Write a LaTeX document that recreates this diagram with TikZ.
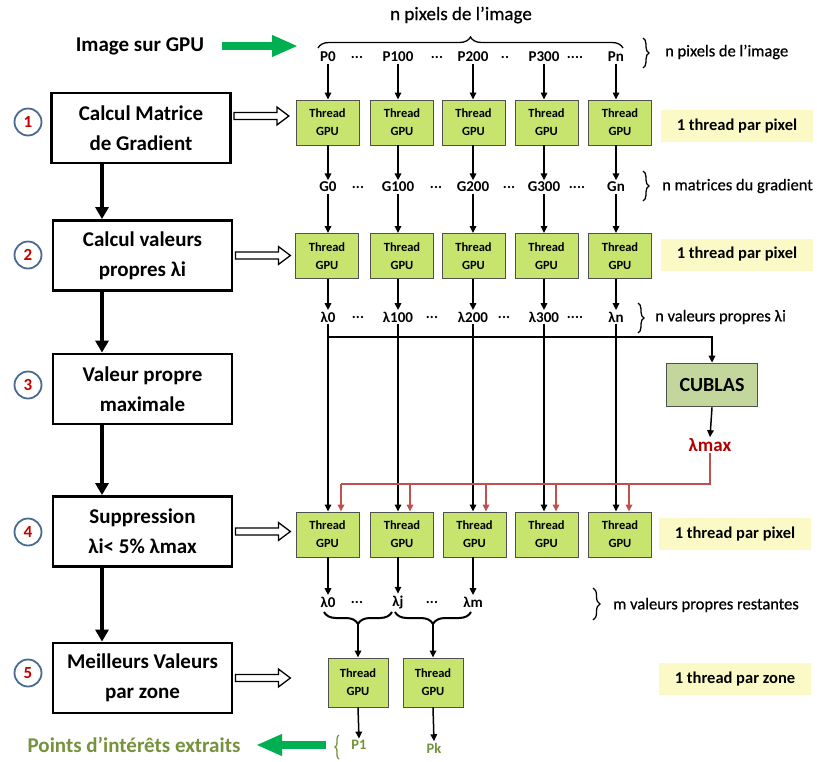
\documentclass[tikz,border=0pt]{standalone}
\usepackage{fontspec}
\setmainfont{Carlito}
\usetikzlibrary{arrows.meta,decorations.pathreplacing,calc}
\definecolor{thr}{HTML}{C6E46E}
\definecolor{thrb}{HTML}{505050}
\definecolor{yel}{HTML}{FBFAC6}
\definecolor{cubc}{HTML}{C3D69B}
\definecolor{grn}{HTML}{00B050}
\definecolor{olive}{HTML}{76923C}
\definecolor{dred}{HTML}{B00000}
\definecolor{lred}{HTML}{C0504D}
\definecolor{circb}{HTML}{4A6A94}
\definecolor{circn}{HTML}{C00000}
\newcommand\hollowarr[1]{\draw[line width=1.3pt, fill=white] #1 ++(2,-3.5) -- ++(43,0) -- ++(0,-5.5) -- ++(12,9) -- ++(-12,9) -- ++(0,-5.5) -- ++(-43,0) -- cycle;}
\begin{document}
\begin{tikzpicture}[x=1pt,y=-1pt,
  stepbox/.style={draw, line width=2.8pt, minimum width=179pt, minimum height=70pt, align=center, font=\fontsize{21}{30}\selectfont\bfseries, inner sep=0pt},
  thread/.style={draw=thrb, fill=thr, line width=0.9pt, minimum width=63pt, minimum height=45pt, align=center, font=\fontsize{12.5}{18}\selectfont\bfseries, inner sep=0pt},
  thread2/.style={thread, minimum width=60pt, minimum height=49pt},
  lab/.style={font=\fontsize{15}{15}\selectfont\bfseries, inner sep=1.5pt},
  rlab/.style={anchor=west, font=\fontsize{16.5}{16.5}\selectfont\addfontfeature{FakeBold=0.6}, inner sep=0pt},
  ylw/.style={fill=yel, minimum width=152pt, minimum height=32pt, font=\fontsize{16.5}{16.5}\selectfont\bfseries, inner sep=0pt},
  circ/.style={circle, draw=circb, line width=1.8pt, fill=white, minimum size=27pt, inner sep=0pt, font=\fontsize{17}{17}\selectfont\bfseries, text=circn},
  arr/.style={line width=1.5pt, -{Triangle[length=7pt,width=6.5pt]}},
  tarr/.style={line width=3.5pt, -{Triangle[length=12pt,width=13pt]}},
  garr/.style={draw=grn, line width=8pt, -{Triangle[length=26pt,width=20pt]}},
  rarr/.style={draw=lred, line width=1.6pt, -{Triangle[length=7pt,width=6.5pt]}},
  rline/.style={draw=lred, line width=2pt},
  brc/.style={decorate, decoration={brace, amplitude=#1}, line width=1.3pt},
  bbrc/.style={decorate, decoration={brace, amplitude=12pt}, line width=2pt}
]
\useasboundingbox (0,0) rectangle (817,761);

% top
\node[font=\fontsize{19}{19}\selectfont\addfontfeature{FakeBold=0.6}] (ttl) at (461,15) {n pixels de l’image};
\node[font=\fontsize{21}{21}\selectfont\bfseries] (img) at (140,46) {Image sur GPU};
\coordinate (gA) at (222,46);
\coordinate (gB) at (298,46);
\draw[garr] (gA) -- (gB);
\draw[brc=11pt] (318,48) -- (623,48);

% left step boxes
\node[stepbox] (b1) at (141,128) {Calcul Matrice\\de Gradient};
\node[stepbox] (b2) at (142.5,255.5) {Calcul valeurs\\propres λi};
\node[stepbox] (b3) at (142.5,389) {Valeur propre\\maximale};
\node[stepbox] (b4) at (142.5,531.5) {Suppression\\λi< 5\% λmax};
\node[stepbox] (b5) at (142.5,678) {Meilleurs Valeurs\\par zone};

\node[circ] (c1) at (28,122) {1};
\node[circ] (c2) at (28,255) {2};
\node[circ] (c3) at (28,385) {3};
\node[circ] (c4) at (28,532) {4};
\node[circ] (c5) at (28,673) {5};

\coordinate (lx) at (102,0);
\draw[tarr] (b1.south -| lx) -- (b2.north -| lx);
\draw[tarr] (b2.south -| lx) -- (b3.north -| lx);
\draw[tarr] (b3.south -| lx) -- (b4.north -| lx);
\draw[tarr] (b4.south -| lx) -- (b5.north -| lx);

% row P
\foreach \i/\x/\t in {1/328/P0, 2/398/P100, 3/473/P200, 4/544/P300, 5/616/Pn}
  \node[lab] (p\i) at (\x,57) {\t};
\node[lab] (pd1) at (357,57) {...};
\node[lab] (pd2) at (437,57) {...};
\node[lab] (pd3) at (505,57) {..};
\node[lab] (pd4) at (575,57) {....};
\draw[brc=6pt] (643,38) -- (643,68);
\node[rlab] (rp) at (665,52) {n pixels de l’image};

% thread row 1
\foreach \i/\x in {1/327.5, 2/402, 3/473.5, 4/546.5, 5/620}
  \node[thread] (t1\i) at (\x,122.5) {Thread\\GPU};
\foreach \i in {1,...,5}
  \draw[arr] (p\i.south) -- (t1\i.north -| p\i);
\node[ylw] (y1) at (737,126) {1 thread par pixel};

% row G
\foreach \i/\x/\t in {1/328/G0, 2/398/G100, 3/473/G200, 4/544/G300, 5/616/Gn}
  \node[lab] (g\i) at (\x,187) {\t};
\node[lab] (gd1) at (358,187) {...};
\node[lab] (gd2) at (436,187) {...};
\node[lab] (gd3) at (509,187) {...};
\node[lab] (gd4) at (577,187) {....};
\foreach \i in {1,...,5}
  \draw[arr] (t1\i.south -| g\i) -- (g\i.north);
\draw[brc=6pt] (643,171) -- (643,201);
\node[rlab] (rg) at (662,186) {n matrices du gradient};

% thread row 2
\foreach \i/\x in {1/327, 2/402, 3/473.5, 4/546.5, 5/620}
  \node[thread] (t2\i) at (\x,256) {Thread\\GPU};
\foreach \i in {1,...,5}
  \draw[arr] (g\i.south) -- (t2\i.north -| g\i);
\node[ylw] (y2) at (737,254.5) {1 thread par pixel};

% row lambda
\foreach \i/\x/\t in {1/328/λ0, 2/398/λ100, 3/473/λ200, 4/544/λ300, 5/616/λn}
  \node[lab] (l\i) at (\x,317) {\t};
\node[lab] (ld1) at (358,317) {...};
\node[lab] (ld2) at (432,317) {...};
\node[lab] (ld3) at (504,317) {...};
\node[lab] (ld4) at (575,317) {....};
\foreach \i in {1,...,5}
  \draw[arr] (t2\i.south -| l\i) -- (l\i.north);
\draw[brc=6pt] (638,303) -- (638,333);
\node[rlab] (rl) at (655,317) {n valeurs propres λi};

% CUBLAS
\node[draw=thrb, fill=cubc, line width=1.8pt, minimum width=91pt, minimum height=43pt, font=\fontsize{20}{20}\selectfont\bfseries, inner sep=0pt] (cub) at (712,385) {CUBLAS};
\node[text=dred, font=\fontsize{19}{19}\selectfont\bfseries, inner sep=1pt] (lmax) at (710,445) {λmax};
\coordinate (hy) at (0,337);
\draw[arr] (l1 |- hy) -| (cub.north);
\draw[arr] (cub.south) -- (lmax.north);

% thread row 3
\foreach \i/\x in {1/327.5, 2/402, 3/474.5, 4/546.5, 5/620}
  \node[thread] (t3\i) at (\x,534.5) {Thread\\GPU};
\foreach \i in {1,...,5}
  \draw[arr] (l\i.south) -- (t3\i.north -| l\i);
\coordinate (r1) at (341,484);
\coordinate (r2) at (410,484);
\coordinate (r3) at (486,484);
\coordinate (r4) at (556,484);
\coordinate (r5) at (629,484);
\draw[rline] (lmax.south) |- (r1);
\foreach \i in {1,...,5}
  \draw[rarr] (r\i) -- (t3\i.north -| r\i);
\node[ylw] (y3) at (735,534) {1 thread par pixel};

% row lambda 2
\node[lab] (m1) at (328,602) {λ0};
\node[lab] (m2) at (398,602) {λj};
\node[lab] (m3) at (473,602) {λm};
\node[lab] (md1) at (357,602) {...};
\node[lab] (md2) at (432,602) {...};
\draw[arr] (t31.south -| m1) -- (m1.north);
\draw[arr] (t32.south -| m2) -- (m2.north);
\draw[arr] (t33.south -| m3) -- (m3.north);
\draw[brc=7pt] (593,588) -- (593,620);
\node[rlab] (rm) at (613,605) {m valeurs propres restantes};

% zone braces
\draw[bbrc] (392,612) -- (324,612);
\draw[bbrc] (471,612) -- (395,612);
\coordinate (bt1) at (358,624);
\coordinate (bt2) at (433,624);

% thread row 4
\node[thread2] (t41) at (358,682.5) {Thread\\GPU};
\node[thread2] (t42) at (433,682.5) {Thread\\GPU};
\draw[arr] (bt1) -- (t41.north);
\draw[arr] (bt2) -- (t42.north);
\node[ylw] (y4) at (735,678.5) {1 thread par zone};

% outputs
\node[lab, text=olive, font=\fontsize{14.5}{14.5}\selectfont\bfseries] (q1) at (359,745) {P1};
\node[lab, text=olive, font=\fontsize{14.5}{14.5}\selectfont\bfseries] (q2) at (434,748) {Pk};
\draw[arr] (t41.south) -- (q1.north);
\draw[arr] (t42.south) -- (q2.north);
\draw[brc=4pt, draw=olive] (339,759) -- (339,735);
\coordinate (gC) at (326,745);
\coordinate (gD) at (256,745);
\draw[garr] (gC) -- (gD);
\node[text=olive, font=\fontsize{21}{21}\selectfont\bfseries] (pts) at (134,745) {Points d’intérêts extraits};

% hollow arrows
\hollowarr{($(b1.east)+(0,-12)$)}
\hollowarr{(b2.east)}
\hollowarr{(b4.east)}
\hollowarr{(b5.east)}
\end{tikzpicture}
\end{document}
